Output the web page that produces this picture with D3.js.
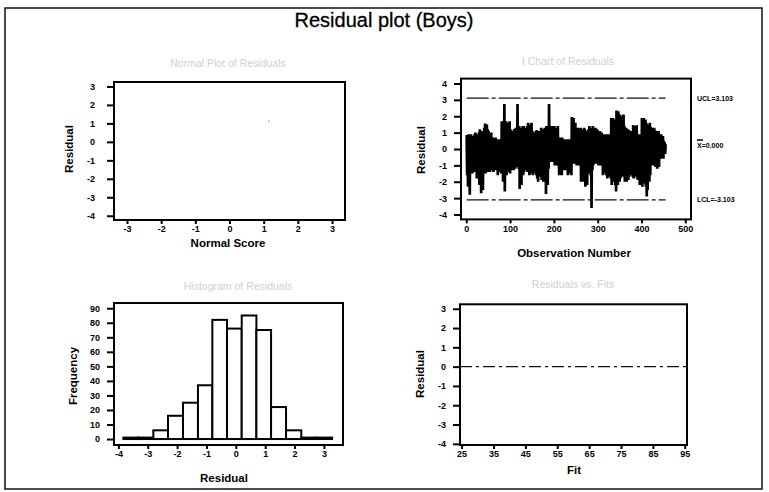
<!DOCTYPE html>
<html><head><meta charset="utf-8">
<script src="https://cdn.jsdelivr.net/npm/d3@7"></script>
<style>
body{margin:0;background:#fff}
svg{display:block}
text{font-family:"Liberation Sans",Arial,Helvetica,sans-serif}
</style>
</head><body>
<svg id="chart" width="769" height="492"></svg>
<script>
// ---------- data ----------
const mainTitle = "Residual plot (Boys)";
const panelTitles = ["Normal Plot of Residuals", "I Chart of Residuals", "Histogram of Residuals", "Residuals vs. Fits"];

const normalScoreTicks = [-3, -2, -1, 0, 1, 2, 3];
const residualTicks = [-4, -3, -2, -1, 0, 1, 2, 3];
const normalPoints = [[1.15, 1.12]]; // only point still visible in the scan

const ichartYTicks = [-4, -3, -2, -1, 0, 1, 2, 3, 4];
const obsTicks = [0, 100, 200, 300, 400, 500];
const limitValues = [3.103, 0, -3.103];
const limitLabels = ["UCL=3.103", "X=0.000", "LCL=-3.103"];

const residuals = [
 0.85,-1.6,0.7,-2.3,0.9,-1.1,0.6,-2.8,0.8,-1.3,
 0.9,-1.2,0.5,-1.5,0.8,-0.9,0.7,-1.4,0.9,-1.1,
 1.0,-1.3,0.6,-1.8,0.9,-1.0,0.7,-1.6,1.0,-2.2,
 1.2,-1.4,0.8,-2.7,1.1,-1.9,0.9,-2.5,1.0,-1.2,
 1.3,-1.0,1.55,-1.5,0.9,-1.2,1.5,-0.9,1.2,-1.4,
 1.1,-1.0,0.8,-1.4,0.9,-1.2,1.0,-0.8,0.7,-1.3,
 0.7,-1.4,0.5,-1.0,0.6,-1.3,0.7,-0.9,0.6,-1.2,
 0.6,-1.6,0.5,-1.1,0.6,-1.4,0.4,-1.0,0.6,-1.5,
 1.7,-1.2,1.3,-2.0,1.6,-1.4,2.75,-2.6,1.5,-1.3,
 1.7,-1.6,1.2,-1.0,1.6,-1.4,1.1,-1.2,1.7,-1.5,
 1.2,-1.3,0.9,-1.0,1.1,-1.2,0.8,-1.3,1.2,-0.9,
 1.0,-1.2,1.3,-0.9,1.1,-1.1,2.75,-1.0,1.2,-1.2,
 1.4,-2.45,1.0,-1.5,1.3,-2.2,0.9,-1.2,1.4,-1.6,
 1.4,-1.4,1.0,-1.1,1.3,-1.3,0.8,-1.0,1.4,-1.4,
 1.6,-1.2,1.3,-1.6,1.5,-1.0,1.2,-1.5,1.6,-1.3,
 1.1,-1.6,0.8,-1.2,1.0,-1.5,0.7,-1.1,1.1,-1.6,
 1.16,-1.8,0.9,-2.0,1.1,-1.4,0.8,-1.7,1.0,-1.2,
 1.3,-1.9,1.0,-1.4,1.2,-2.0,0.9,-1.3,1.3,-1.8,
 1.2,-2.75,1.4,-1.6,1.0,-2.2,1.3,-1.2,2.75,-0.8,
 1.4,-0.8,1.2,-0.7,1.4,-0.8,1.1,-0.6,1.3,-0.8,
 1.4,-1.0,1.2,-0.8,1.3,-1.0,1.0,-0.7,1.4,-0.9,
 0.7,-1.6,0.6,-1.0,0.7,-1.4,0.5,-1.6,0.7,-1.1,
 0.6,-1.3,0.5,-1.0,0.6,-1.2,0.4,-1.3,0.6,-0.9,
 0.6,-1.6,0.5,-1.2,0.6,-1.5,0.4,-1.1,0.6,-1.6,
 1.95,-0.9,1.5,-0.8,1.9,-0.9,1.3,-0.7,1.6,-0.9,
 1.3,-1.0,1.1,-0.8,1.3,-1.0,1.0,-0.9,1.2,-1.0,
 1.3,-2.0,1.0,-1.5,1.2,-2.0,0.9,-1.6,1.3,-1.9,
 1.2,-2.3,0.4,0.8,0.5,-2.2,1.1,-1.5,1.2,-1.4,
 1.4,-1.2,1.1,-1.6,1.3,-3.6,1.2,-1.3,1.4,-1.0,
 1.3,-0.9,1.1,-0.8,1.3,-0.9,1.0,-0.7,1.2,-0.9,
 1.1,-1.0,0.9,-0.8,1.1,-1.0,0.8,-0.9,1.0,-1.0,
 0.9,-1.6,0.7,-1.2,0.9,-1.5,0.6,-1.1,0.9,-1.6,
 0.9,-1.8,0.7,-1.3,0.9,-1.7,0.6,-1.2,0.8,-1.8,
 1.9,-2.2,1.5,-1.6,1.9,-2.0,1.4,-1.5,1.8,-2.2,
 1.8,-2.6,2.35,-1.8,1.6,-2.2,2.3,-1.5,1.9,-2.0,
 2.1,-1.8,1.6,-1.4,2.0,-1.7,1.5,-1.3,2.1,-1.6,
 1.4,-2.0,1.1,-1.5,1.3,-2.0,1.0,-1.4,1.2,-1.9,
 1.16,-1.7,0.9,-1.3,1.1,-1.6,0.8,-1.2,1.1,-1.7,
 1.47,-1.8,1.2,-1.3,1.4,-1.7,1.0,-1.4,1.45,-1.8,
 0.9,-1.9,0.7,-1.4,0.9,-2.2,0.6,-1.5,0.9,-1.9,
 1.9,-2.3,1.5,-1.7,1.9,-2.1,1.3,-1.6,1.8,-2.3,
 1.6,-2.9,1.2,-2.5,1.5,-1.9,1.1,-2.0,1.6,-1.6,
 1.36,-1.0,1.1,-0.9,1.3,-1.0,0.9,-0.8,1.3,-1.0,
 1.15,-1.1,0.9,-0.9,1.1,-1.2,0.8,-0.8,1.1,-1.1,
 0.9,-0.5,0.7,-0.6,0.9,-0.5,0.6,-0.4,0.8,-0.6,
 0.5,-0.3,0.4,-0.3,0.3
];

const histEdges = [-3.83,-3.32,-2.81,-2.31,-1.80,-1.29,-0.80,-0.30,0.20,0.70,1.20,1.71,2.23,2.75,3.28];
const histCounts = [1,1,6,16,25,37,82,76,85,75,22,6,1,1];
const histXTicks = [-4, -3, -2, -1, 0, 1, 2, 3];
const freqTicks = [0, 10, 20, 30, 40, 50, 60, 70, 80, 90];

const fitTicks = [25, 35, 45, 55, 65, 75, 85, 95];
const fitRefValue = [0];

// ---------- drawing ----------
const svg = d3.select("#chart");
svg.append("rect").attr("width", 769).attr("height", 492).attr("fill", "#fff");
svg.append("rect").attr("x", 5).attr("y", 8).attr("width", 757).attr("height", 481)
  .attr("fill", "none").attr("stroke", "#111").attr("stroke-width", 1.5);

svg.append("text").attr("x", 384).attr("y", 27).attr("text-anchor", "middle")
  .attr("font-size", 20).attr("fill", "#000").attr("stroke", "#000").attr("stroke-width", 0.3)
  .text(mainTitle);

const tickFont = 9, labelFont = 11.5;
const fmt = d => String(d);

function styleAxis(g) {
  g.select(".domain").remove();
  g.selectAll(".tick line").attr("stroke", "#000").attr("stroke-width", 2);
  g.selectAll(".tick text").attr("font-size", tickFont).attr("font-weight", "bold")
    .attr("fill", "#000").attr("font-family", "'Liberation Sans',Arial,sans-serif");
}

function panel(cfg) {
  const g = svg.append("g");
  const x = d3.scaleLinear().domain(cfg.xd).range([cfg.x0, cfg.x1]);
  const y = d3.scaleLinear().domain(cfg.yd).range([cfg.y1, cfg.y0]);
  g.append("text").attr("x", cfg.tx).attr("y", cfg.ty).attr("text-anchor", "middle")
    .attr("font-size", 10.5).attr("fill", "#cfcfcf").text(cfg.title);
  const ax = g.append("g").attr("transform", `translate(0,${cfg.y1})`)
    .call(d3.axisBottom(x).tickValues(cfg.xt).tickFormat(fmt).tickSize(4).tickPadding(2));
  styleAxis(ax);
  const ay = g.append("g").attr("transform", `translate(${cfg.x0},0)`)
    .call(d3.axisLeft(y).tickValues(cfg.yt).tickFormat(fmt).tickSize(7).tickPadding(cfg.ypad));
  styleAxis(ay);
  g.append("text").attr("x", cfg.xlx).attr("y", cfg.xly).attr("text-anchor", "middle")
    .attr("font-size", labelFont).attr("font-weight", "bold").text(cfg.xlabel);
  g.append("text").attr("transform", `translate(${cfg.ylx},${cfg.yly}) rotate(-90)`)
    .attr("text-anchor", "middle").attr("font-size", labelFont).attr("font-weight", "bold")
    .text(cfg.ylabel);
  const plot = g.append("g");
  g.append("rect").attr("x", cfg.x0).attr("y", cfg.y0).attr("width", cfg.x1 - cfg.x0)
    .attr("height", cfg.y1 - cfg.y0).attr("fill", "none").attr("stroke", "#000").attr("stroke-width", 2);
  return {g: plot, x, y};
}

// Panel 1: normal plot
{
  const p = panel({title: panelTitles[0], tx: 228, ty: 67, x0: 114, x1: 345, y0: 82, y1: 220,
    xd: [-3.38, 3.38], yd: [-4.23, 3.24], xt: normalScoreTicks, yt: residualTicks, ypad: 12,
    xlabel: "Normal Score", xlx: 228, xly: 247, ylabel: "Residual", ylx: 73, yly: 149});
  p.g.selectAll("circle").data(normalPoints).join("circle")
    .attr("cx", d => p.x(d[0])).attr("cy", d => p.y(d[1])).attr("r", 0.8).attr("fill", "#999");
}

// Panel 2: I chart
{
  const p = panel({title: panelTitles[1], tx: 568, ty: 65, x0: 461, x1: 691, y0: 78.6, y1: 219.4,
    xd: [-12, 513], yd: [-4.3, 4.3], xt: obsTicks, yt: ichartYTicks, ypad: 7,
    xlabel: "Observation Number", xlx: 574, xly: 257, ylabel: "Residual", ylx: 425, yly: 150});
  const n = residuals.length;
  const line = d3.line().x((d, i) => p.x(i + 1)).y(d => p.y(d));
  p.g.append("path").datum(residuals).attr("d", line).attr("fill", "none")
    .attr("stroke", "#000").attr("stroke-width", 2.7).attr("stroke-linejoin", "bevel");
  limitValues.forEach((v, i) => {
    if (v !== 0) {
      p.g.append("line").attr("x1", p.x(1)).attr("x2", p.x(n)).attr("y1", p.y(v)).attr("y2", p.y(v))
        .attr("stroke", "#111").attr("stroke-width", 1.2).attr("stroke-dasharray", "22,3,4,3");
    }
    const ty = p.y(v) + (v === 0 ? -1 : 2.5);
    svg.append("text").attr("x", 697).attr("y", ty).attr("font-size", 7).attr("font-weight", "bold")
      .attr("fill", "#000").text(limitLabels[i]);
    if (v === 0) {
      svg.append("line").attr("x1", 697).attr("x2", 703).attr("y1", ty - 8).attr("y2", ty - 8)
        .attr("stroke", "#000").attr("stroke-width", 1.5);
    }
  });
}

// Panel 3: histogram
{
  const p = panel({title: panelTitles[2], tx: 238, ty: 290, x0: 114, x1: 343, y0: 303, y1: 445,
    xd: [-4.15, 3.65], yd: [-4.1, 93.6], xt: histXTicks, yt: freqTicks, ypad: 7,
    xlabel: "Residual", xlx: 224, xly: 482, ylabel: "Frequency", ylx: 77, yly: 376});
  p.g.selectAll("rect").data(histCounts).join("rect")
    .attr("x", (d, i) => p.x(histEdges[i]))
    .attr("width", (d, i) => p.x(histEdges[i + 1]) - p.x(histEdges[i]))
    .attr("y", d => p.y(d)).attr("height", d => p.y(0) - p.y(d))
    .attr("fill", "#fff").attr("stroke", "#000").attr("stroke-width", 2);
}

// Panel 4: residuals vs fits
{
  const p = panel({title: panelTitles[3], tx: 573, ty: 288, x0: 460, x1: 687, y0: 304.3, y1: 445,
    xd: [24.5, 95.7], yd: [-4.06, 3.23], xt: fitTicks, yt: residualTicks, ypad: 7,
    xlabel: "Fit", xlx: 574, xly: 474, ylabel: "Residual", ylx: 424, yly: 374});
  fitRefValue.forEach(v => {
    p.g.append("line").attr("x1", p.x.range()[0]).attr("x2", p.x.range()[1])
      .attr("y1", p.y(v)).attr("y2", p.y(v)).attr("stroke", "#111").attr("stroke-width", 1.2)
      .attr("stroke-dasharray", "12,4,3,4");
  });
}
</script>
</body></html>
